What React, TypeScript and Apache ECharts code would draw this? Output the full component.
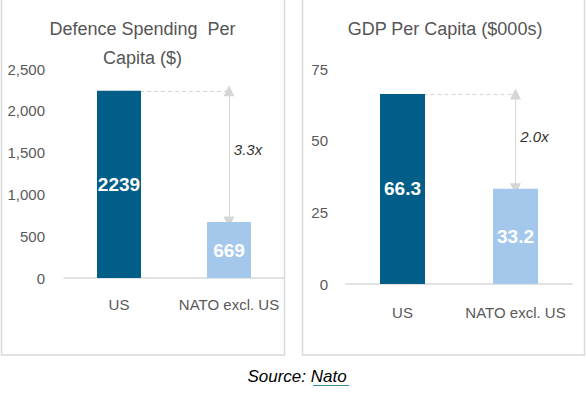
import React, { useEffect, useRef } from "react";
import * as echarts from "echarts";

const categories = ["US", "NATO excl. US"];
const defenceValues = [2239, 669];
const gdpValues = [66.3, 33.2];
const defenceRatio = "3.3x";
const gdpRatio = "2.0x";
const defenceTitle = "Defence Spending  Per\nCapita ($)";
const gdpTitle = "GDP Per Capita ($000s)";
const barColors = ["#005e88", "#a3c8ec"];

const FONT = "'Liberation Sans', Arial, Helvetica, sans-serif";
const GRAY = "#595959";

function barSeries(values: number[], idx: number, width: number) {
  return {
    type: "bar",
    xAxisIndex: idx,
    yAxisIndex: idx,
    barWidth: width,
    z: 3,
    data: values.map((v, i) => ({ value: v, itemStyle: { color: barColors[i] } })),
    label: {
      show: true,
      position: "inside",
      color: "#ffffff",
      fontFamily: FONT,
      fontWeight: "bold",
      fontSize: 19,
    },
  };
}

function annotationSeries(values: number[], idx: number, ratio: string) {
  const top = values[0];
  const bottom = values[1];
  const labelVal = top - 0.45 * (top - bottom);
  return {
    type: "line",
    xAxisIndex: idx,
    yAxisIndex: idx,
    z: 1,
    data: [],
    markLine: {
      silent: true,
      animation: false,
      z: 1,
      label: { show: false },
      data: [
        [
          { coord: [categories[0], top], symbol: "none", lineStyle: { type: [4, 3], color: "#d6d6d6", width: 1 } },
          { coord: [categories[1], top], symbol: "none" },
        ],
        [
          { coord: [categories[1], top], symbol: "triangle", symbolSize: [11, 11], lineStyle: { type: "solid", color: "#d6d6d6", width: 1 } },
          { coord: [categories[1], bottom], symbol: "triangle", symbolSize: [11, 11] },
        ],
      ],
      symbol: ["triangle", "triangle"],
      itemStyle: { color: "#d6d6d6" },
    },
    markPoint: {
      silent: true,
      symbol: "circle",
      symbolSize: 0,
      data: [{ coord: [categories[1], labelVal], value: ratio }],
      label: {
        show: true,
        position: "inside",
        offset: [19, 0],
        formatter: ratio,
        color: "#333333",
        fontFamily: FONT,
        fontStyle: "italic",
        fontSize: 15,
      },
    },
  };
}

export default function App() {
  const ref = useRef<HTMLDivElement>(null);
  useEffect(() => {
    if (!ref.current) return;
    const chart = echarts.init(ref.current, undefined, { renderer: "svg" });
    const axisLabel = { color: GRAY, fontFamily: FONT, fontSize: 15 };
    chart.setOption({
      animation: false,
      backgroundColor: "#ffffff",
      grid: [
        { left: 64, right: 302, top: 69, bottom: 120 },
        { left: 346, right: 14, top: 69, bottom: 114 },
      ],
      xAxis: [0, 1].map((i) => ({
        type: "category",
        gridIndex: i,
        data: categories,
        axisTick: { show: false },
        axisLine: { lineStyle: { color: "#d9d9d9", width: 1.5 } },
        axisLabel: { ...axisLabel, interval: 0, margin: i === 0 ? 19 : 21 },
      })),
      yAxis: [
        {
          type: "value",
          gridIndex: 0,
          min: 0,
          max: 2500,
          interval: 500,
          splitLine: { show: false },
          axisLine: { show: false },
          axisTick: { show: false },
          axisLabel: {
            ...axisLabel,
            margin: 19,
            formatter: (v: number) => v.toLocaleString("en-US"),
          },
        },
        {
          type: "value",
          gridIndex: 1,
          min: 0,
          max: 75,
          interval: 25,
          splitLine: { show: false },
          axisLine: { show: false },
          axisTick: { show: false },
          axisLabel: { ...axisLabel, margin: 18 },
        },
      ],
      series: [
        barSeries(defenceValues, 0, 44),
        barSeries(gdpValues, 1, 45),
        annotationSeries(defenceValues, 0, defenceRatio),
        annotationSeries(gdpValues, 1, gdpRatio),
      ],
      graphic: [
        {
          type: "rect",
          shape: { x: 1.5, y: -10, width: 283, height: 365 },
          style: { fill: "none", stroke: "#d9d9d9", lineWidth: 1.5 },
          z: 0,
        },
        {
          type: "rect",
          shape: { x: 302.5, y: -10, width: 282, height: 365 },
          style: { fill: "none", stroke: "#d9d9d9", lineWidth: 1.5 },
          z: 0,
        },
        {
          type: "text",
          x: 142.5,
          y: 43,
          style: {
            text: defenceTitle,
            textAlign: "center",
            textVerticalAlign: "middle",
            font: `18px ${FONT}`,
            lineHeight: 29,
            fill: "#555555",
          },
        },
        {
          type: "text",
          x: 445,
          y: 29,
          style: {
            text: gdpTitle,
            textAlign: "center",
            textVerticalAlign: "middle",
            font: `18px ${FONT}`,
            fill: "#555555",
          },
        },
        {
          type: "text",
          x: 297,
          y: 376,
          style: {
            text: "{a|Source: }{b|Nato}",
            textAlign: "center",
            textVerticalAlign: "middle",
            rich: {
              a: { fontFamily: FONT, fontStyle: "italic", fontSize: 17, color: "#333333" },
              b: { fontFamily: FONT, fontStyle: "italic", fontSize: 17, color: "#3b8c9c" },
            },
          },
        },
        {
          type: "line",
          shape: { x1: 313, y1: 385.5, x2: 349, y2: 385.5 },
          style: { stroke: "#3b8c9c", lineWidth: 1 },
        },
      ],
    });
    return () => chart.dispose();
  }, []);
  return (
    <div
      ref={ref}
      style={{ position: "fixed", left: 0, top: 0, width: 586, height: 398 }}
    />
  );
}
